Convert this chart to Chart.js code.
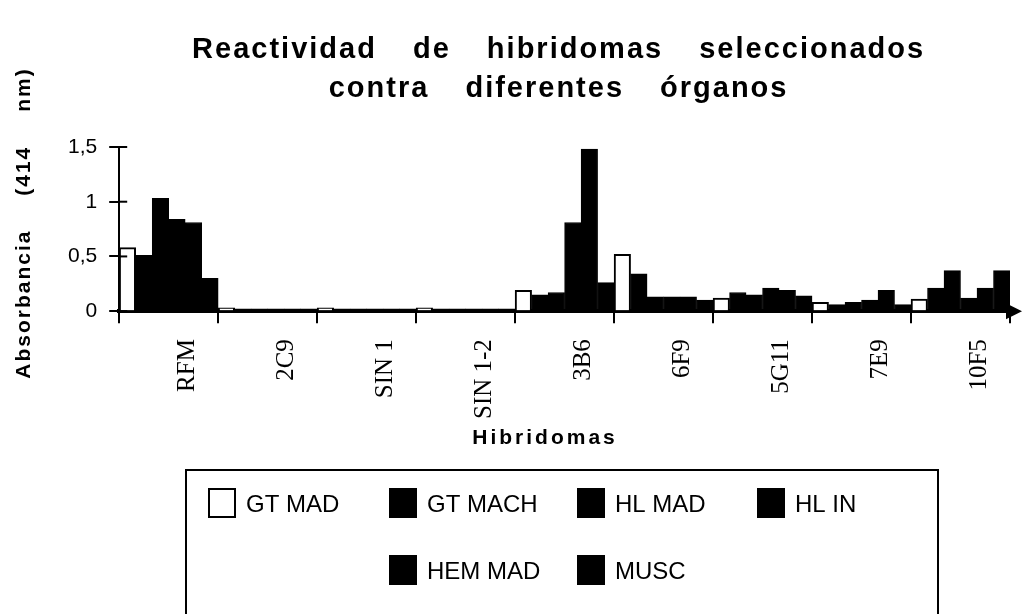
<!DOCTYPE html>
<html>
<head>
<meta charset="utf-8">
<script src="https://cdn.jsdelivr.net/npm/chart.js@4.4.1/dist/chart.umd.min.js"></script>
<style>
  html, body { margin: 0; padding: 0; background: #fff; }
</style>
</head>
<body>
<canvas id="chart" width="1023" height="614"></canvas>
<script>
const categories = ['RFM', '2C9', 'SIN 1', 'SIN 1-2', '3B6', '6F9', '5G11', '7E9', '10F5'];
const gtMad  = [0.58, 0.03, 0.03, 0.03, 0.19, 0.52, 0.12, 0.08, 0.11];
const gtMach = [0.51, 0.02, 0.02, 0.02, 0.15, 0.34, 0.17, 0.06, 0.21];
const hlMad  = [1.03, 0.02, 0.02, 0.02, 0.17, 0.13, 0.15, 0.08, 0.37];
const hlIn   = [0.84, 0.02, 0.02, 0.02, 0.81, 0.13, 0.21, 0.10, 0.12];
const hemMad = [0.81, 0.02, 0.02, 0.02, 1.48, 0.13, 0.19, 0.19, 0.21];
const musc   = [0.30, 0.02, 0.02, 0.02, 0.26, 0.10, 0.14, 0.06, 0.37];
const yTicks = [0, 0.5, 1, 1.5];

const titleLines = ['Reactividad de hibridomas seleccionados', 'contra diferentes órganos'];
const yTitle = 'Absorbancia (414 nm)';
const xTitle = 'Hibridomas';

const ctx = document.getElementById('chart').getContext('2d');

function bar(label, data, fill) {
  return {
    label: label,
    data: data,
    backgroundColor: fill,
    borderColor: '#000',
    borderWidth: fill === '#fff' ? 2 : 1,
    categoryPercentage: 1,
    barPercentage: 1
  };
}

// titles, legend box, arrow and inner tick marks
const decorations = {
  id: 'decorations',
  afterDraw(chart) {
    const c = chart.ctx;
    const area = chart.chartArea;
    const yScale = chart.scales.y;
    c.save();
    c.fillStyle = '#000';
    c.strokeStyle = '#000';

    // main title
    c.font = 'bold 29px "Liberation Sans", Arial, sans-serif';
    c.letterSpacing = '2px';
    c.wordSpacing = '26px';
    c.textAlign = 'center';
    c.textBaseline = 'middle';
    const cx = (area.left + area.right) / 2 - 6;
    c.fillText(titleLines[0], cx, 50);
    c.fillText(titleLines[1], cx, 89);

    // y title
    c.font = 'bold 21px "Liberation Sans", Arial, sans-serif';
    c.letterSpacing = '2px';
    c.wordSpacing = '26px';
    c.save();
    c.translate(24, (area.top + area.bottom) / 2 - 6);
    c.rotate(-Math.PI / 2);
    c.fillText(yTitle, 0, 0);
    c.restore();

    // x title
    c.letterSpacing = '3px';
    c.wordSpacing = '0px';
    c.fillText(xTitle, 545, 438);

    // arrow at the end of the x axis
    c.beginPath();
    c.moveTo(area.right - 4, area.bottom - 8);
    c.lineTo(area.right + 12, area.bottom);
    c.lineTo(area.right - 4, area.bottom + 8);
    c.closePath();
    c.fill();

    // y tick marks crossing the axis
    c.lineWidth = 2;
    yTicks.forEach(v => {
      const y = yScale.getPixelForValue(v);
      c.beginPath();
      c.moveTo(area.left, y);
      c.lineTo(area.left + 8, y);
      c.stroke();
    });

    // legend box
    c.letterSpacing = '0px';
    c.wordSpacing = '0px';
    c.lineWidth = 2;
    c.strokeRect(186, 470, 752, 160);
    const slots = [[209, 503], [390, 503], [578, 503], [758, 503], [390, 570], [578, 570]];
    c.font = '24px "Liberation Sans", Arial, sans-serif';
    c.textAlign = 'left';
    chart.data.datasets.forEach((ds, i) => {
      const [x, y] = slots[i];
      c.fillStyle = ds.backgroundColor;
      c.fillRect(x, y - 14, 26, 28);
      c.lineWidth = 2;
      c.strokeRect(x, y - 14, 26, 28);
      c.fillStyle = '#000';
      c.fillText(ds.label, x + 37, y + 2);
    });
    c.restore();
  }
};

const chart = new Chart(ctx, {
  type: 'bar',
  data: {
    labels: categories,
    datasets: [
      bar('GT MAD', gtMad, '#fff'),
      bar('GT MACH', gtMach, '#000'),
      bar('HL MAD', hlMad, '#000'),
      bar('HL IN', hlIn, '#000'),
      bar('HEM MAD', hemMad, '#000'),
      bar('MUSC', musc, '#000')
    ]
  },
  options: {
    responsive: false,
    animation: false,
    layout: { padding: { top: 147, left: 56, right: 13, bottom: 179 } },
    plugins: {
      legend: { display: false },
      tooltip: { enabled: false },
      title: { display: false }
    },
    scales: {
      x: {
        grid: { drawOnChartArea: false, tickLength: 12, color: '#000', lineWidth: 2 },
        border: { color: '#000', width: 4 },
        ticks: {
          color: '#000',
          minRotation: 90,
          maxRotation: 90,
          labelOffset: 19,
          padding: 16,
          font: { family: '"Liberation Serif", "Times New Roman", serif', size: 25 }
        }
      },
      y: {
        min: 0,
        max: 1.5,
        afterBuildTicks: axis => { axis.ticks = yTicks.map(v => ({ value: v })); },
        grid: { drawOnChartArea: false, tickLength: 10, color: '#000', lineWidth: 2 },
        border: { color: '#000', width: 2 },
        ticks: {
          color: '#000',
          padding: 12,
          font: { family: '"Liberation Sans", Arial, sans-serif', size: 21 },
          callback: v => String(v).replace('.', ',')
        }
      }
    }
  },
  plugins: [decorations]
});
</script>
</body>
</html>
